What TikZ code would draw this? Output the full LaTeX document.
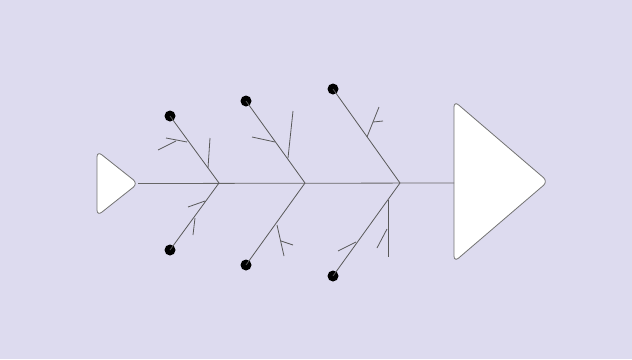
\documentclass[tikz,border=0pt]{standalone}
\begin{document}
\begin{tikzpicture}[x=1pt,y=-1pt,
  bone/.style={draw=black!65,line width=0.8pt},
  spine/.style={draw=black!60,line width=0.8pt},
  head/.style={draw=black!55,fill=white,line width=0.8pt,rounded corners=6pt,line join=round},
  dotnode/.style={circle,fill=black,inner sep=0pt,minimum size=11pt}]
\definecolor{bg}{RGB}{221,219,239}
\fill[bg] (0,0) rectangle (632,359);
\useasboundingbox (0,0) rectangle (632,359);
% heads
\coordinate (tA) at (97,151);
\coordinate (tB) at (97,216);
\coordinate (tT) at (138,183.5);
\draw[head] (tA) -- (tT) -- (tB) -- cycle;
\coordinate (hA) at (454,101);
\coordinate (hB) at (454,262);
\coordinate (hT) at (548,181.5);
\draw[head] (hA) -- (hT) -- (hB) -- cycle;
\coordinate (hL) at (454,183);
% spine
\coordinate (j1) at (219,183);
\coordinate (j2) at (305,183);
\coordinate (j3) at (400,183);
\draw[spine] (tT) -- (hL);
% dots
\node[dotnode] (d1u) at (170,116) {};
\node[dotnode] (d1l) at (170,250) {};
\node[dotnode] (d2u) at (246,101) {};
\node[dotnode] (d2l) at (246,265) {};
\node[dotnode] (d3u) at (333,89) {};
\node[dotnode] (d3l) at (333,276) {};
% bones
\draw[bone] (d1u.center) -- (j1) -- (d1l.center);
\draw[bone] (d2u.center) -- (j2) -- (d2l.center);
\draw[bone] (d3u.center) -- (j3) -- (d3l.center);
% bone 1 upper branches
\coordinate (a1) at (187,142); \coordinate (a2) at (166,138);
\coordinate (a3) at (176,141); \coordinate (a4) at (158,150);
\draw[bone] (a1) -- (a2); \draw[bone] (a3) -- (a4);
\coordinate (b1) at (208,168); \coordinate (b2) at (210,138);
\draw[bone] (b1) -- (b2);
% bone 1 lower branches
\coordinate (c1) at (205,201); \coordinate (c2) at (188,207);
\draw[bone] (c1) -- (c2);
\coordinate (c3) at (195,218); \coordinate (c4) at (193,235);
\draw[bone] (c3) -- (c4);
% bone 2 upper branches
\coordinate (e1) at (275,142); \coordinate (e2) at (252,137);
\draw[bone] (e1) -- (e2);
\coordinate (e3) at (288,158); \coordinate (e4) at (293,111);
\draw[bone] (e3) -- (e4);
% bone 2 lower branches
\coordinate (f1) at (277,225); \coordinate (f2) at (284,256);
\coordinate (f3) at (281,241); \coordinate (f4) at (293,245);
\draw[bone] (f1) -- (f2); \draw[bone] (f3) -- (f4);
% bone 3 upper branches
\coordinate (g1) at (367,137); \coordinate (g2) at (379,107);
\coordinate (g3) at (373,122); \coordinate (g4) at (383,121);
\draw[bone] (g1) -- (g2); \draw[bone] (g3) -- (g4);
% bone 3 lower branches
\coordinate (k1) at (388,200); \coordinate (k2) at (388,257);
\coordinate (k3) at (387,229); \coordinate (k4) at (377,248);
\draw[bone] (k1) -- (k2); \draw[bone] (k3) -- (k4);
\coordinate (m1) at (356,242); \coordinate (m2) at (338,251);
\draw[bone] (m1) -- (m2);
\end{tikzpicture}
\end{document}
